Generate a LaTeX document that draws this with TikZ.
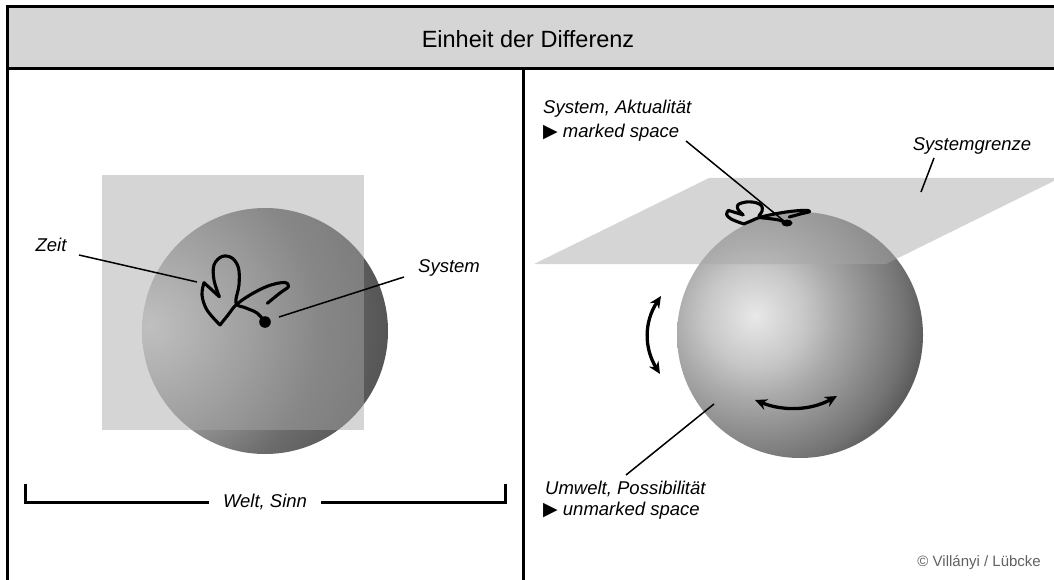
\documentclass[tikz,border=0pt]{standalone}
\usepackage{fontspec}
\setmainfont{Liberation Sans}
\newfontfamily\symfont{DejaVu Sans}
\usetikzlibrary{arrows.meta}
\definecolor{lsA}{gray}{0.84}
\definecolor{lsB}{gray}{0.56}
\definecolor{lsC}{gray}{0.42}
\definecolor{lsD}{gray}{0.33}
\definecolor{rsA}{gray}{0.91}
\definecolor{rsB}{gray}{0.78}
\definecolor{rsC}{gray}{0.67}
\definecolor{rsD}{gray}{0.45}
\definecolor{rsE}{gray}{0.36}
\definecolor{ovl}{gray}{0.655}
\definecolor{headfill}{gray}{0.835}
\definecolor{copygray}{gray}{0.38}
% concentric shadings, centred on the highlight, clipped to the sphere (25bp = radius of shaded circle)
\pgfdeclareradialshading{sphL}{\pgfpoint{0bp}{0bp}}{color(0bp)=(lsA); color(11.5bp)=(lsB); color(17bp)=(lsC); color(24bp)=(lsD); color(50bp)=(lsD)}
\pgfdeclareradialshading{sphR}{\pgfpoint{0bp}{0bp}}{color(0bp)=(rsA); color(6.25bp)=(rsB); color(10bp)=(rsC); color(18.75bp)=(rsD); color(21.25bp)=(rsE); color(50bp)=(rsE)}
\newcommand{\zeitpath}{%
  \draw[scrib] plot[smooth, tension=0.6] coordinates {(267.3,303.3) (280,293) (288.5,286.5) (284,282.5) (268,286) (250,295) (236,305) (228,315) (220,325)};
  \draw[scrib] plot[smooth, tension=0.6] coordinates {(220,325) (207,310) (202,295) (204,282.7)};
  \draw[scrib] (204,282.7) -- (219.3,296.7);
  \draw[scrib] plot[smooth, tension=0.6] coordinates {(219.3,296.7) (214,280) (214,265) (222,256.5) (232,258) (238.5,268) (239,285) (236,303) (246,308) (257,313) (265,322)};
}
\begin{document}
\begin{tikzpicture}[x=1pt,y=-1pt,
  lbl/.style={font=\fontsize{18.5}{22}\selectfont\itshape, inner sep=0pt},
  leader/.style={line width=1.5pt, black},
  scrib/.style={line width=3.1pt, line join=round, line cap=round},
  frameline/.style={line width=3pt, black},
  veil/.style={fill=ovl, fill opacity=0.47},
  bracketline/.style={line width=3pt, black},
  dblarrow/.style={line width=3.3pt, {Stealth[length=12pt,width=11pt]}-{Stealth[length=12pt,width=11pt]}}
]
\useasboundingbox (0,0) rectangle (1054,580);
\clip (0,0) rectangle (1054,580);
\fill[white] (0,0) rectangle (1054,580);
% header
\fill[headfill] (7,7) rectangle (1060,69);
\node[inner sep=0pt, font=\fontsize{23.5}{28}\selectfont] (title) at (528,39) {Einheit der Differenz};
% ---------------- left panel ----------------
\begin{scope}
  \clip (265,331) circle[radius=123pt];
  \shade[shading=sphL] (150,326) circle[radius=250pt];
\end{scope}
\fill[veil] (102,175) rectangle (364,430);
\zeitpath
\fill (265,322) circle[radius=5.8pt];
\node[lbl] (zeit) at (51,245) {Zeit};
\node[lbl] (sysL) at (449,268) {System};
\coordinate (zeitA) at (79,255);
\coordinate (zeitB) at (197,282);
\coordinate (sysA) at (404,277);
\coordinate (sysB) at (279,317);
\draw[leader] (zeitA) -- (zeitB);
\draw[leader] (sysA) -- (sysB);
\node[lbl] (welt) at (265,502) {Welt, Sinn};
\coordinate (bl) at (25,484);
\coordinate (br) at (505,484);
\draw[bracketline] (bl) |- ([xshift=-14pt]welt.west);
\draw[bracketline] (br) |- ([xshift=14pt]welt.east);
% ---------------- right panel ----------------
\begin{scope}
  \clip (800,335) circle[radius=123pt];
  \shade[shading=sphR] (755,316) circle[radius=200pt];
\end{scope}
\fill[veil] (534,264) -- (886,264) -- (1060,178) -- (709,178) -- cycle;
\begin{scope}[shift={(787,223)}, xscale=0.96, yscale=0.32, shift={(-265,-322)}]
  \zeitpath
\end{scope}
\fill (787,223) ellipse[x radius=5.5pt, y radius=3.5pt];
\node[lbl, anchor=west] (sysR) at (543,109) {System, Aktualität};
\node[lbl, anchor=west] (marked) at (543,133) {{\symfont\fontsize{19}{22}\selectfont ▶} marked space};
\coordinate (mA) at (686,141);
\coordinate (mB) at (784,221);
\draw[leader] (mA) -- (mB);
\node[lbl] (grenze) at (972,146) {Systemgrenze};
\coordinate (gA) at (934,158);
\coordinate (gB) at (921,192);
\draw[leader] (gA) -- (gB);
\node[lbl, anchor=west] (umwelt) at (545,489) {Umwelt, Possibilität};
\node[lbl, anchor=west] (unmarked) at (543,511) {{\symfont\fontsize{19}{22}\selectfont ▶} unmarked space};
\coordinate (uA) at (626,475);
\coordinate (uB) at (714,404);
\draw[leader] (uA) -- (uB);
\coordinate (vA) at (661,296);
\coordinate (vB) at (660,374);
\draw[dblarrow] (vA) .. controls (644,322) and (644,348) .. (vB);
\coordinate (hA) at (755,400);
\coordinate (hB) at (837,396);
\draw[dblarrow] (hA) .. controls (782,411) and (810,411) .. (hB);
\node[inner sep=0pt, anchor=east, text=copygray, font=\fontsize{15}{18}\selectfont] (copy) at (1041,563) {© Villányi / Lübcke};
% frame
\draw[frameline] (7,590) -- (7,7) -- (1060,7);
\draw[frameline] (7,69) -- (1060,69);
\draw[frameline] (523,69) -- (523,590);
\end{tikzpicture}
\end{document}
